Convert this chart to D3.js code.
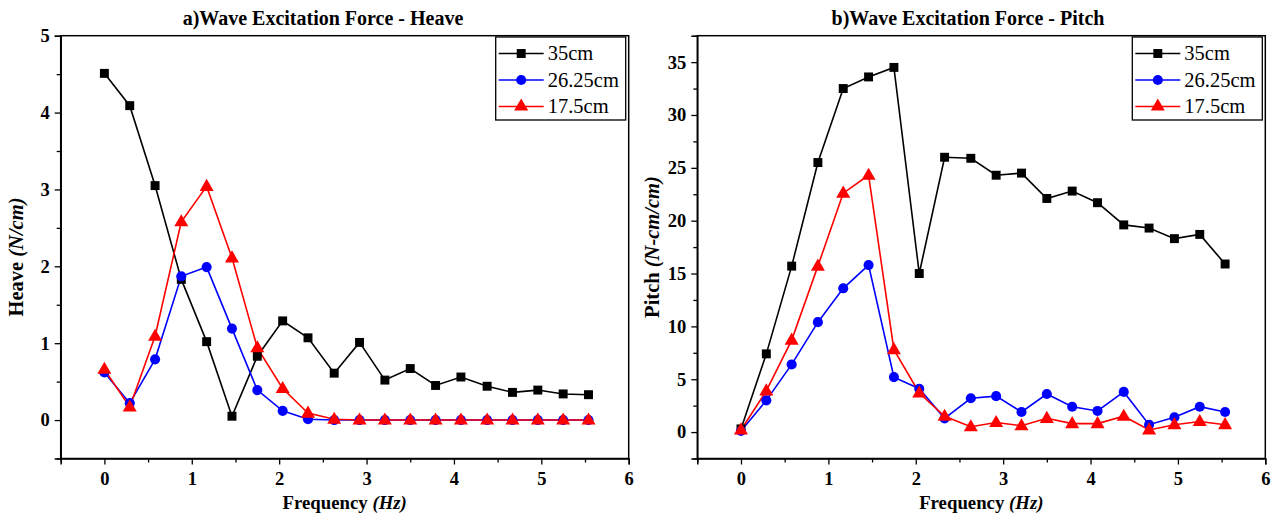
<!DOCTYPE html>
<html><head><meta charset="utf-8">
<script src="https://cdn.jsdelivr.net/npm/d3@7"></script>
<style>
body{margin:0;background:#fff;}
svg{display:block;font-family:"Liberation Serif","Times New Roman",serif;}
</style></head><body>
<svg id="c" width="1274" height="516"></svg>
<script>
const freq = [0, 0.29, 0.58, 0.88, 1.17, 1.46, 1.75, 2.04, 2.33, 2.63, 2.92, 3.21, 3.50, 3.79, 4.08, 4.38, 4.67, 4.96, 5.25, 5.54];
const seriesNames = ["35cm", "26.25cm", "17.5cm"];
const seriesColors = ["#000000", "#0000ff", "#ff0000"];
const seriesSymbols = ["square", "circle", "triangle"];

const heave35 = [4.51, 4.09, 3.05, 1.83, 1.02, 0.05, 0.83, 1.29, 1.07, 0.61, 1.01, 0.52, 0.67, 0.45, 0.56, 0.44, 0.36, 0.39, 0.34, 0.33];
const heave26 = [0.62, 0.22, 0.79, 1.87, 1.99, 1.19, 0.39, 0.12, 0.01, 0.0, 0.0, 0.0, 0.0, 0.0, 0.0, 0.0, 0.0, 0.0, 0.0, 0.0];
const heave17 = [0.66, 0.17, 1.09, 2.58, 3.04, 2.11, 0.94, 0.41, 0.09, 0.01, 0.0, 0.0, 0.0, 0.0, 0.0, 0.0, 0.0, 0.0, 0.0, 0.0];

const pitch35 = [0.3, 7.4, 15.7, 25.5, 32.5, 33.6, 34.5, 15.0, 26.0, 25.9, 24.3, 24.5, 22.1, 22.8, 21.7, 19.6, 19.3, 18.3, 18.7, 15.9];
const pitch26 = [0.1, 3.0, 6.4, 10.4, 13.6, 15.8, 5.2, 4.1, 1.3, 3.2, 3.4, 1.9, 3.6, 2.4, 2.0, 3.8, 0.7, 1.4, 2.4, 1.9];
const pitch17 = [0.2, 3.9, 8.7, 15.7, 22.6, 24.3, 7.8, 3.7, 1.5, 0.5, 0.9, 0.6, 1.3, 0.8, 0.8, 1.5, 0.2, 0.7, 1.0, 0.7];

const xTicks = [0, 1, 2, 3, 4, 5, 6];
const heaveTicks = [0, 1, 2, 3, 4, 5];
const pitchTicks = [0, 5, 10, 15, 20, 25, 30, 35];

const svg = d3.select("#c");

function panel(opt){
  const g = svg.append("g");
  const x = d3.scaleLinear().domain([-0.5, 6]).range([opt.left, opt.left + 568]);
  const y = d3.scaleLinear().domain(opt.yDomain).range([458.5, 35.7]);
  const x0 = x.range()[0], x1 = x.range()[1], y0 = y.range()[0], y1 = y.range()[1];

  g.append("rect").attr("x", x0).attr("y", y1).attr("width", x1 - x0).attr("height", y0 - y1)
    .attr("fill", "none").attr("stroke", "#000").attr("stroke-width", 1.5);

  g.append("g").attr("transform", `translate(0,${y0})`)
    .call(d3.axisBottom(x).tickValues(xTicks).tickSize(6).tickPadding(7).tickFormat(d3.format("d")));
  g.append("g").attr("transform", `translate(0,${y0})`)
    .call(d3.axisBottom(x).tickValues(d3.range(-0.5, 6.01, 1)).tickSize(4).tickFormat(""))
    .call(s => s.select(".domain").remove());
  g.append("g").attr("transform", `translate(${x0},0)`)
    .call(d3.axisLeft(y).tickValues(opt.yTicks).tickSize(6).tickPadding(5).tickFormat(d3.format("d")));
  g.append("g").attr("transform", `translate(${x0},0)`)
    .call(d3.axisLeft(y).tickValues(opt.yMinor).tickSize(4).tickFormat(""))
    .call(s => s.select(".domain").remove());
  g.selectAll(".domain").attr("stroke-width", 1.5);
  g.selectAll(".tick line").attr("stroke-width", 1.3);
  g.selectAll(".tick text").attr("font-size", 18.5).attr("font-weight", "bold")
    .attr("font-family", "Liberation Serif, serif").attr("fill", "#000");

  g.append("text").attr("x", opt.titleX).attr("y", 25).attr("text-anchor", "middle")
    .attr("font-size", 20).attr("font-weight", "bold").text(opt.title);

  const xt = g.append("text").attr("x", (x0 + x1) / 2).attr("y", 509).attr("text-anchor", "middle")
    .attr("font-size", 18.8).attr("font-weight", "bold");
  xt.append("tspan").text("Frequency ");
  xt.append("tspan").attr("font-style", "italic").text("(Hz)");

  const yt = g.append("text").attr("transform", `translate(${opt.left - 38},${opt.yLabelY}) rotate(-90)`)
    .attr("text-anchor", "middle").attr("font-size", 20.5).attr("font-weight", "bold");
  yt.append("tspan").text(opt.yLabel + " ");
  yt.append("tspan").attr("font-style", "italic").text(opt.yUnit);

  const line = d3.line().x((d, i) => x(freq[i])).y(d => y(d));
  const symSize = {square: 80, circle: 80, triangle: 85};
  const symType = {square: d3.symbolSquare, circle: d3.symbolCircle, triangle: d3.symbolTriangle};
  opt.data.forEach((vals, k) => {
    g.append("path").datum(vals).attr("d", line).attr("fill", "none")
      .attr("stroke", seriesColors[k]).attr("stroke-width", 1.6);
  });
  opt.data.forEach((vals, k) => {
    const sym = d3.symbol().type(symType[seriesSymbols[k]]).size(symSize[seriesSymbols[k]]);
    g.append("g").selectAll("path").data(vals).join("path")
      .attr("d", sym).attr("fill", seriesColors[k])
      .attr("transform", (d, i) => `translate(${x(freq[i])},${y(d) + (seriesSymbols[k] === "triangle" ? 0.5 : 0)})`);
  });

  const lx = x1 - 133, ly = 37;
  const lg = g.append("g");
  lg.append("rect").attr("x", lx).attr("y", ly).attr("width", 130).attr("height", 83)
    .attr("fill", "#fff").attr("stroke", "#000").attr("stroke-width", 1.3);
  seriesNames.forEach((n, k) => {
    const cy = ly + 16.5 + k * 26.5;
    lg.append("line").attr("x1", lx + 3).attr("x2", lx + 48).attr("y1", cy).attr("y2", cy)
      .attr("stroke", seriesColors[k]).attr("stroke-width", 1.6);
    lg.append("path").attr("d", d3.symbol().type(symType[seriesSymbols[k]]).size(symSize[seriesSymbols[k]])())
      .attr("fill", seriesColors[k]).attr("transform", `translate(${lx + 25.5},${cy})`);
    lg.append("text").attr("x", lx + 52).attr("y", cy + 6.5).attr("font-size", 20.5).text(n);
  });
}

panel({left: 60.7, yDomain: [-0.5, 5], yTicks: heaveTicks, yMinor: d3.range(-0.5, 5.01, 1),
  title: "a)Wave Excitation Force - Heave", titleX: 323, yLabel: "Heave", yUnit: "(N/cm)", yLabelY: 257,
  data: [heave35, heave26, heave17]});
panel({left: 697.3, yDomain: [-2.5, 37.5], yTicks: pitchTicks, yMinor: d3.range(-2.5, 37.51, 5),
  title: "b)Wave Excitation Force - Pitch", titleX: 968, yLabel: "Pitch", yUnit: "(N-cm/cm)", yLabelY: 247,
  data: [pitch35, pitch26, pitch17]});
</script>
</body></html>
